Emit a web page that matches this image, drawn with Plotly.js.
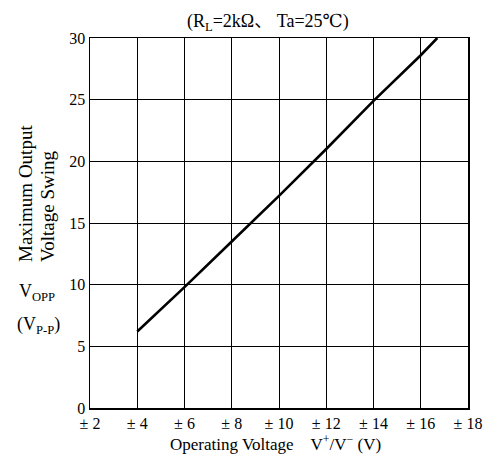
<!DOCTYPE html>
<html>
<head>
<meta charset="utf-8">
<script src="https://cdn.plot.ly/plotly-3.0.1.min.js"></script>
<style>html,body{margin:0;padding:0;background:#fff;}#chart{width:483px;height:458px;}</style>
</head>
<body>
<div id="chart"></div>
<script>
// Data
const operatingVoltage = [4, 6, 8, 10, 12, 14, 16, 16.7];
const outputSwing = [6.2, 9.8, 13.5, 17.2, 21.0, 24.9, 28.6, 30];
const xTickVals = [2, 4, 6, 8, 10, 12, 14, 16, 18];
const xTickText = ["± 2", "± 4", "± 6", "± 8", "± 10", "± 12", "± 14", "± 16", "± 18"];
const yTickVals = [0, 5, 10, 15, 20, 25, 30];

const FONT = "Liberation Serif, DejaVu Serif, Noto Sans CJK JP, serif";

const trace = {
  x: operatingVoltage,
  y: outputSwing,
  mode: "lines",
  line: {color: "#000", width: 2.6},
  hoverinfo: "skip"
};

function ann(text, x, y, size, angle) {
  return {text: text, xref: "paper", yref: "paper", x: x, y: y,
    xanchor: "center", yanchor: "middle", showarrow: false,
    textangle: angle || 0, font: {family: FONT, size: size, color: "#000"}};
}

const layout = {
  width: 483, height: 458,
  margin: {l: 90, r: 15, t: 38, b: 50},
  paper_bgcolor: "#fff", plot_bgcolor: "#fff",
  showlegend: false,
  font: {family: FONT, color: "#000", size: 16},
  xaxis: {
    range: [2, 18], tickvals: xTickVals, ticktext: xTickText,
    showgrid: true, gridcolor: "#000", gridwidth: 1,
    showline: true, linecolor: "#000", linewidth: 1.5, mirror: true,
    zeroline: false, ticks: "", ticklen: 0,
    tickfont: {family: FONT, size: 16, color: "#000"}
  },
  yaxis: {
    range: [0, 30], tickvals: yTickVals,
    showgrid: true, gridcolor: "#000", gridwidth: 1,
    showline: true, linecolor: "#000", linewidth: 1.5, mirror: true,
    zeroline: false, ticks: "", ticklen: 0,
    tickfont: {family: FONT, size: 16, color: "#000"}
  },
  annotations: [
    ann("(R<sub>L</sub>=2kΩ、 Ta=25℃)", 0.471, 1.043, 18),
    ann("Operating Voltage &nbsp;&nbsp;&nbsp;V<sup>+</sup>/V<sup>−</sup> (V)", 0.491, -0.094, 17),
    ann("Maximum Output", -0.172, 0.581, 19, -90),
    ann("Voltage Swing", -0.111, 0.546, 19, -90),
    ann("V<sub>OPP</sub>", -0.139, 0.311, 18),
    ann("(V<sub>P-P</sub>)", -0.135, 0.224, 18)
  ]
};

Plotly.newPlot("chart", [trace], layout, {displayModeBar: false, staticPlot: true});
</script>
</body>
</html>
